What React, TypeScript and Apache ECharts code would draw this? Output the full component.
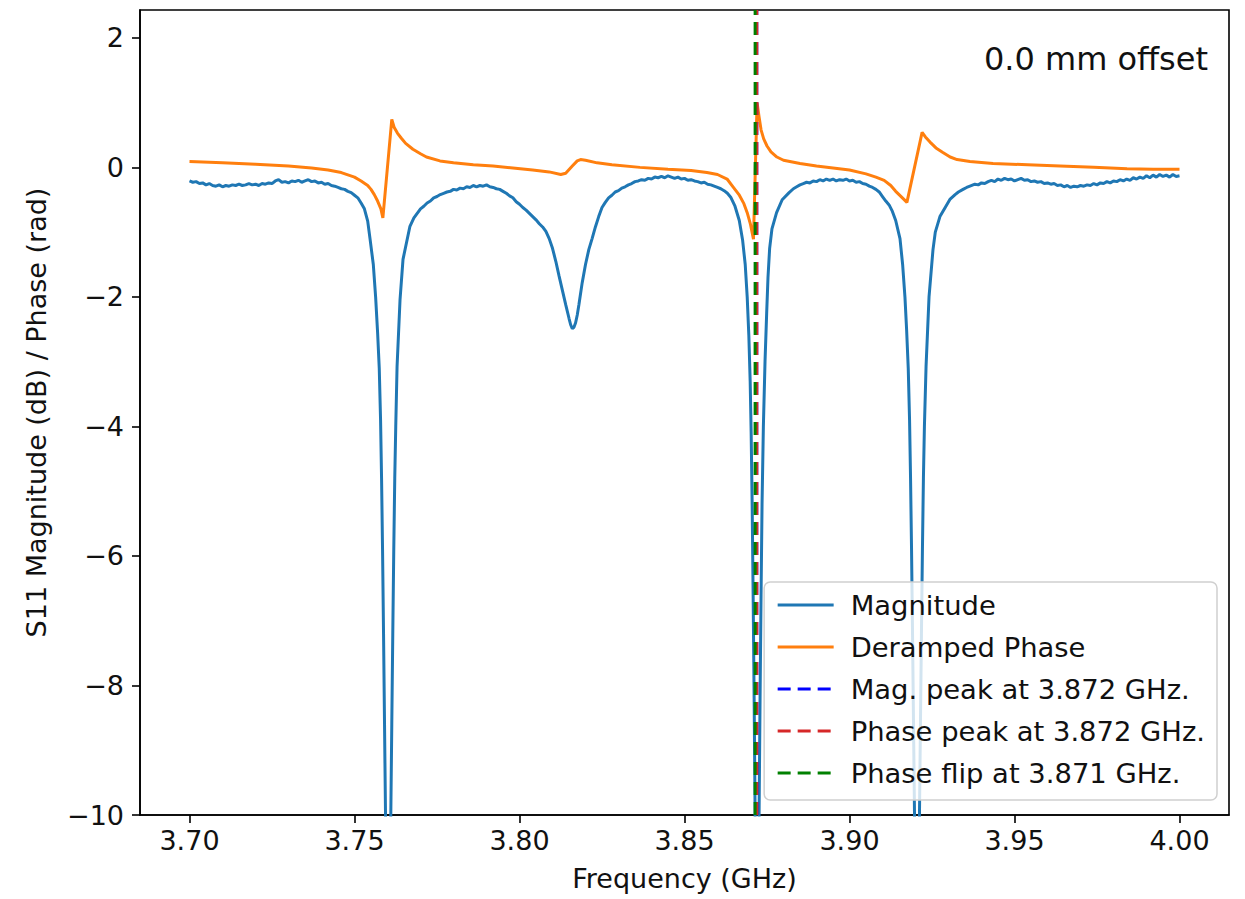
import React, { useEffect, useRef } from "react";
import * as echarts from "echarts";

const xTicks = [3.7, 3.75, 3.8, 3.85, 3.9, 3.95, 4.0];
const yTicks = [-10, -8, -6, -4, -2, 0, 2];
const X_MIN = 3.685;
const X_MAX = 4.015;
const Y_MIN = -10;
const Y_MAX = 2.43;

const magPeak = 3.8719;
const phasePeak = 3.8719;
const phaseFlip = 3.8714;
const legendNames = [
  "Magnitude",
  "Deramped Phase",
  "Mag. peak at 3.872 GHz.",
  "Phase peak at 3.872 GHz.",
  "Phase flip at 3.871 GHz.",
];
const offsetLabel = "0.0 mm offset";

const magnitude: [number, number][] = [
  [3.700, -0.21], [3.701, -0.23], [3.702, -0.22], [3.703, -0.25], [3.704, -0.24],
  [3.705, -0.27], [3.706, -0.25], [3.707, -0.28], [3.708, -0.29], [3.709, -0.27],
  [3.710, -0.30], [3.711, -0.28], [3.712, -0.29], [3.713, -0.27], [3.714, -0.28],
  [3.715, -0.26], [3.716, -0.28], [3.717, -0.27], [3.718, -0.25], [3.719, -0.27],
  [3.720, -0.26], [3.721, -0.28], [3.722, -0.25], [3.723, -0.26], [3.724, -0.24],
  [3.725, -0.25], [3.726, -0.21], [3.727, -0.19], [3.728, -0.23], [3.729, -0.22],
  [3.730, -0.24], [3.731, -0.21], [3.732, -0.22], [3.733, -0.20], [3.734, -0.23],
  [3.735, -0.21], [3.736, -0.19], [3.737, -0.22], [3.738, -0.21], [3.739, -0.24],
  [3.740, -0.23], [3.741, -0.26], [3.742, -0.25], [3.743, -0.28], [3.744, -0.29],
  [3.745, -0.31], [3.746, -0.33], [3.747, -0.34], [3.748, -0.37], [3.749, -0.39],
  [3.750, -0.43], [3.751, -0.47], [3.752, -0.55], [3.753, -0.64], [3.754, -0.83],
  [3.7547, -1.1], [3.7557, -1.5], [3.7564, -2.0], [3.7570, -2.55], [3.7575, -3.1],
  [3.7579, -3.9], [3.7582, -4.8], [3.7585, -5.9], [3.7588, -7.2], [3.7591, -8.6],
  [3.7594, -10.0], [3.7597, -12], [3.7602, -15], [3.7607, -12], [3.7610, -10.0],
  [3.7613, -8.6], [3.7616, -7.2], [3.7619, -5.9], [3.7622, -4.8], [3.7625, -4.0],
  [3.7629, -3.07], [3.7638, -2.04], [3.7647, -1.42], [3.7668, -0.91], [3.768, -0.78],
  [3.770, -0.64], [3.771, -0.60], [3.772, -0.55], [3.773, -0.52], [3.774, -0.47],
  [3.775, -0.45], [3.776, -0.42], [3.777, -0.40], [3.778, -0.38], [3.779, -0.37],
  [3.780, -0.34], [3.781, -0.35], [3.782, -0.32], [3.783, -0.33], [3.784, -0.30],
  [3.785, -0.31], [3.786, -0.28], [3.787, -0.30], [3.788, -0.28], [3.789, -0.29],
  [3.790, -0.27], [3.791, -0.30], [3.792, -0.31], [3.793, -0.33], [3.794, -0.34],
  [3.795, -0.37], [3.796, -0.40], [3.797, -0.44], [3.798, -0.47], [3.799, -0.53],
  [3.800, -0.57], [3.801, -0.62], [3.802, -0.66], [3.803, -0.71], [3.804, -0.76],
  [3.805, -0.81], [3.806, -0.87], [3.807, -0.92], [3.808, -0.99], [3.809, -1.10],
  [3.810, -1.25], [3.811, -1.45], [3.812, -1.68], [3.813, -1.90], [3.814, -2.12],
  [3.815, -2.33], [3.8155, -2.43], [3.8160, -2.49], [3.8165, -2.47], [3.8170, -2.40],
  [3.8175, -2.28], [3.818, -2.12], [3.819, -1.78], [3.820, -1.50], [3.821, -1.27],
  [3.822, -1.10], [3.823, -0.92], [3.824, -0.76], [3.825, -0.62], [3.826, -0.54],
  [3.827, -0.47], [3.828, -0.43], [3.829, -0.38], [3.830, -0.36], [3.831, -0.32],
  [3.832, -0.30], [3.833, -0.27], [3.834, -0.25], [3.835, -0.22], [3.836, -0.21],
  [3.837, -0.19], [3.838, -0.20], [3.839, -0.17], [3.840, -0.18], [3.841, -0.15],
  [3.842, -0.16], [3.843, -0.14], [3.844, -0.16], [3.845, -0.13], [3.846, -0.15],
  [3.847, -0.17], [3.848, -0.15], [3.849, -0.18], [3.850, -0.17], [3.851, -0.20],
  [3.852, -0.19], [3.853, -0.21], [3.854, -0.22], [3.855, -0.24], [3.856, -0.23],
  [3.857, -0.26], [3.858, -0.27], [3.859, -0.29], [3.860, -0.31], [3.861, -0.33],
  [3.862, -0.36], [3.863, -0.40], [3.8640, -0.46], [3.8653, -0.60], [3.8666, -0.82],
  [3.8676, -1.12], [3.8684, -1.5], [3.8690, -2.0], [3.8695, -2.6], [3.8699, -3.3],
  [3.8702, -4.1], [3.8705, -5.2], [3.8708, -6.6], [3.8711, -8.2], [3.8714, -10],
  [3.8716, -12], [3.8720, -15], [3.8724, -12], [3.8726, -10], [3.8729, -8.2],
  [3.8732, -6.6], [3.8735, -5.2], [3.8739, -4.0], [3.8744, -3.0], [3.8749, -2.25],
  [3.8753, -1.7], [3.8758, -1.25], [3.8765, -0.95], [3.8779, -0.70], [3.8796, -0.50],
  [3.8817, -0.39], [3.883, -0.33], [3.884, -0.30], [3.885, -0.27], [3.886, -0.25],
  [3.887, -0.23], [3.888, -0.24], [3.889, -0.21], [3.890, -0.22], [3.891, -0.19],
  [3.892, -0.21], [3.893, -0.18], [3.894, -0.20], [3.895, -0.18], [3.896, -0.21],
  [3.897, -0.19], [3.898, -0.20], [3.899, -0.18], [3.900, -0.21], [3.901, -0.20],
  [3.902, -0.23], [3.903, -0.22], [3.904, -0.25], [3.905, -0.26], [3.906, -0.29],
  [3.907, -0.31], [3.908, -0.34], [3.909, -0.38], [3.910, -0.45], [3.911, -0.52],
  [3.912, -0.58], [3.913, -0.68], [3.914, -0.82], [3.9153, -1.1], [3.9161, -1.5],
  [3.9168, -2.0], [3.9173, -2.5], [3.9178, -3.1], [3.9182, -3.9], [3.9185, -4.8],
  [3.9188, -5.9], [3.9191, -7.2], [3.9194, -8.6], [3.9197, -10], [3.9200, -12],
  [3.92045, -15], [3.9209, -12], [3.9212, -10], [3.9215, -8.6], [3.9218, -7.2],
  [3.9221, -5.9], [3.9224, -4.8], [3.9227, -4.0], [3.9232, -3.07], [3.9241, -2.0],
  [3.9253, -1.27], [3.926, -1.0], [3.9274, -0.76], [3.929, -0.62], [3.9305, -0.49],
  [3.932, -0.42], [3.933, -0.38], [3.9344, -0.34], [3.9355, -0.31], [3.9365, -0.29],
  [3.938, -0.26], [3.939, -0.27], [3.940, -0.24], [3.941, -0.25], [3.942, -0.22],
  [3.943, -0.20], [3.944, -0.22], [3.945, -0.18], [3.946, -0.20], [3.947, -0.17],
  [3.948, -0.19], [3.949, -0.18], [3.950, -0.21], [3.951, -0.19], [3.952, -0.17],
  [3.953, -0.20], [3.954, -0.19], [3.955, -0.22], [3.956, -0.21], [3.957, -0.23],
  [3.958, -0.22], [3.959, -0.25], [3.960, -0.24], [3.961, -0.26], [3.962, -0.25],
  [3.963, -0.28], [3.964, -0.27], [3.965, -0.30], [3.966, -0.28], [3.967, -0.31],
  [3.968, -0.29], [3.969, -0.30], [3.970, -0.28], [3.971, -0.29], [3.972, -0.27],
  [3.973, -0.28], [3.974, -0.25], [3.975, -0.27], [3.976, -0.24], [3.977, -0.25],
  [3.978, -0.22], [3.979, -0.24], [3.980, -0.21], [3.981, -0.22], [3.982, -0.19],
  [3.983, -0.21], [3.984, -0.18], [3.985, -0.20], [3.986, -0.16], [3.987, -0.18],
  [3.988, -0.15], [3.989, -0.17], [3.990, -0.13], [3.991, -0.16], [3.992, -0.12],
  [3.993, -0.15], [3.994, -0.11], [3.995, -0.14], [3.996, -0.12], [3.997, -0.15],
  [3.998, -0.11], [3.999, -0.14], [4.000, -0.13],
];

const phase: [number, number][] = [
  [3.700, 0.09], [3.710, 0.07], [3.720, 0.05], [3.730, 0.02], [3.737, -0.01],
  [3.742, -0.04], [3.746, -0.08], [3.750, -0.15], [3.752, -0.21], [3.754, -0.28],
  [3.755, -0.34], [3.756, -0.42], [3.757, -0.52], [3.758, -0.64], [3.7586, -0.78],
  [3.7613, 0.74], [3.7620, 0.62], [3.7630, 0.53], [3.7642, 0.45], [3.7655, 0.37],
  [3.7677, 0.28], [3.7700, 0.21], [3.7718, 0.16], [3.7759, 0.10], [3.780, 0.07],
  [3.786, 0.04], [3.792, 0.02], [3.798, -0.01], [3.804, -0.04], [3.809, -0.07],
  [3.8125, -0.11], [3.8140, -0.09], [3.8160, 0.02], [3.8175, 0.10], [3.8185, 0.12],
  [3.8200, 0.11], [3.8235, 0.07], [3.828, 0.04], [3.8365, 0.0], [3.845, -0.03],
  [3.852, -0.05], [3.8568, -0.08], [3.8600, -0.11], [3.8629, -0.18], [3.8647, -0.30],
  [3.8665, -0.42], [3.8680, -0.56], [3.8690, -0.70], [3.8700, -0.88], [3.8709, -1.11],
  [3.8720, 1.0], [3.8726, 0.78], [3.8732, 0.58], [3.8740, 0.44], [3.8750, 0.33],
  [3.8762, 0.24], [3.8780, 0.16], [3.8800, 0.11], [3.8850, 0.06], [3.8900, 0.02],
  [3.8950, -0.01], [3.9000, -0.04], [3.9050, -0.10], [3.9080, -0.15], [3.9105, -0.20],
  [3.9125, -0.28], [3.9140, -0.37], [3.9158, -0.46], [3.9174, -0.54], [3.9220, 0.54],
  [3.9230, 0.47], [3.9244, 0.39], [3.9262, 0.30], [3.9283, 0.23], [3.9305, 0.16],
  [3.9326, 0.12], [3.9365, 0.09], [3.9435, 0.06], [3.9540, 0.04], [3.9638, 0.02],
  [3.9740, 0.0], [3.9841, -0.02], [3.9920, -0.03], [4.000, -0.03],
];

const FONT = "DejaVu Sans";
const TEXT = "#111111";
const fmtMinus = (s: string) => s.replace("-", "\u2212");

export default function App() {
  const ref = useRef<HTMLDivElement>(null);
  useEffect(() => {
    if (!ref.current) return;
    const chart = echarts.init(ref.current, null, { renderer: "svg" });
    const vline = (x: number): [number, number][] => [
      [x, Y_MIN],
      [x, Y_MAX],
    ];
    const option = {
      animation: false,
      backgroundColor: "#ffffff",
      textStyle: { fontFamily: FONT },
      grid: {
        left: 140,
        right: 16,
        top: 10,
        bottom: 84,
        show: true,
        borderColor: "#000",
        borderWidth: 1.6,
        backgroundColor: "transparent",
      },
      xAxis: {
        type: "value",
        min: X_MIN,
        max: X_MAX,
        name: "Frequency (GHz)",
        nameLocation: "middle",
        nameGap: 50,
        nameTextStyle: { fontSize: 27, color: TEXT, fontFamily: FONT },
        axisLine: { show: true, onZero: false, lineStyle: { color: "#000", width: 1.6 } },
        axisTick: { show: true, length: 8, customValues: xTicks, lineStyle: { color: "#000", width: 1.6 } },
        axisLabel: {
          customValues: xTicks,
          formatter: (v: number) => v.toFixed(2),
          fontSize: 27,
          color: TEXT,
          margin: 12,
          fontFamily: FONT,
        },
        splitLine: { show: false },
      },
      yAxis: {
        type: "value",
        min: Y_MIN,
        max: Y_MAX,
        name: "S11 Magnitude (dB) / Phase (rad)",
        nameLocation: "middle",
        nameGap: 90,
        nameTextStyle: { fontSize: 27, color: TEXT, fontFamily: FONT },
        axisLine: { show: true, onZero: false, lineStyle: { color: "#000", width: 1.6 } },
        axisTick: { show: true, length: 8, customValues: yTicks, lineStyle: { color: "#000", width: 1.6 } },
        axisLabel: {
          customValues: yTicks,
          formatter: (v: number) => fmtMinus(String(v)),
          fontSize: 27,
          color: TEXT,
          margin: 16,
          fontFamily: FONT,
        },
        splitLine: { show: false },
      },
      legend: {
        orient: "vertical",
        right: 28,
        bottom: 99,
        align: "left",
        itemWidth: 56,
        itemHeight: 14,
        itemGap: 12,
        padding: [8, 12, 12, 12],
        backgroundColor: "rgba(255,255,255,0.8)",
        borderColor: "#d0d0d0",
        borderWidth: 1.5,
        borderRadius: 6,
        itemStyle: { opacity: 0 },
        lineStyle: { width: 3 },
        textStyle: { fontSize: 27.4, color: TEXT, lineHeight: 30, padding: [0, 0, 0, 12], fontFamily: FONT },
        data: legendNames,
      },
      graphic: [
        {
          type: "text",
          right: 37,
          top: 43,
          style: { text: offsetLabel, fontSize: 32, fill: TEXT, fontFamily: FONT },
        },
      ],
      series: [
        {
          name: legendNames[0],
          type: "line",
          data: magnitude,
          symbol: "none",
          lineStyle: { color: "#1f77b4", width: 3 },
          itemStyle: { color: "#1f77b4" },
        },
        {
          name: legendNames[1],
          type: "line",
          data: phase,
          symbol: "none",
          lineStyle: { color: "#ff7f0e", width: 3 },
          itemStyle: { color: "#ff7f0e" },
        },
        {
          name: legendNames[2],
          type: "line",
          data: vline(magPeak),
          symbol: "none",
          lineStyle: { color: "#0000ff", width: 3, type: [13, 7] },
          itemStyle: { color: "#0000ff" },
        },
        {
          name: legendNames[3],
          type: "line",
          data: vline(phasePeak),
          symbol: "none",
          lineStyle: { color: "#d62728", width: 3, type: [13, 7] },
          itemStyle: { color: "#d62728" },
        },
        {
          name: legendNames[4],
          type: "line",
          data: vline(phaseFlip),
          symbol: "none",
          lineStyle: { color: "#008000", width: 3, type: [13, 7] },
          itemStyle: { color: "#008000" },
        },
      ],
    };
    chart.setOption(option as any);
    return () => chart.dispose();
  }, []);
  return (
    <div
      ref={ref}
      style={{ position: "absolute", left: 0, top: 0, width: 1245, height: 899, background: "#fff" }}
    />
  );
}
